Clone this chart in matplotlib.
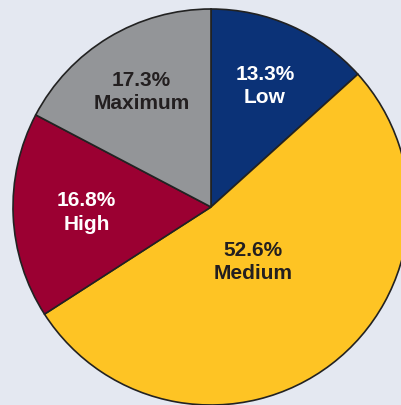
import matplotlib
matplotlib.use("Agg")
import matplotlib.pyplot as plt
import numpy as np

categories = ["Low", "Medium", "High", "Maximum"]
values = [13.3, 52.6, 16.8, 17.3]
colors = ["#0b3277", "#fec424", "#9b0032", "#939598"]
text_colors = ["white", "#231f20", "white", "#231f20"]
label_dist = [0.67, 0.35, 0.63, 0.68]

W, H = 401, 405
cx, cy, R = 211, 207, 198

fig = plt.figure(figsize=(W / 100, H / 100), dpi=100)
fig.patch.set_facecolor("#e4e8f1")
ax = fig.add_axes([0, 0, 1, 1])
ax.set_facecolor("#e4e8f1")

wedges, _ = ax.pie(values, colors=colors, startangle=90, counterclock=False,
                   radius=1.0, wedgeprops=dict(edgecolor="#222222", linewidth=1.2))

for w, cat, v, tc, d in zip(wedges, categories, values, text_colors, label_dist):
    mid = np.deg2rad((w.theta1 + w.theta2) / 2)
    ax.text(d * np.cos(mid), d * np.sin(mid), f"{v:.1f}%\n{cat}", ha="center", va="center",
            color=tc, fontsize=15, fontweight="bold", family=["Liberation Sans", "DejaVu Sans"],
            linespacing=1.3)

ax.set_xlim(-cx / R, (W - cx) / R)
ax.set_ylim(-(H - cy) / R, cy / R)
ax.set_aspect("auto")
ax.axis("off")

fig.savefig("out.png", dpi=100, facecolor=fig.get_facecolor())
